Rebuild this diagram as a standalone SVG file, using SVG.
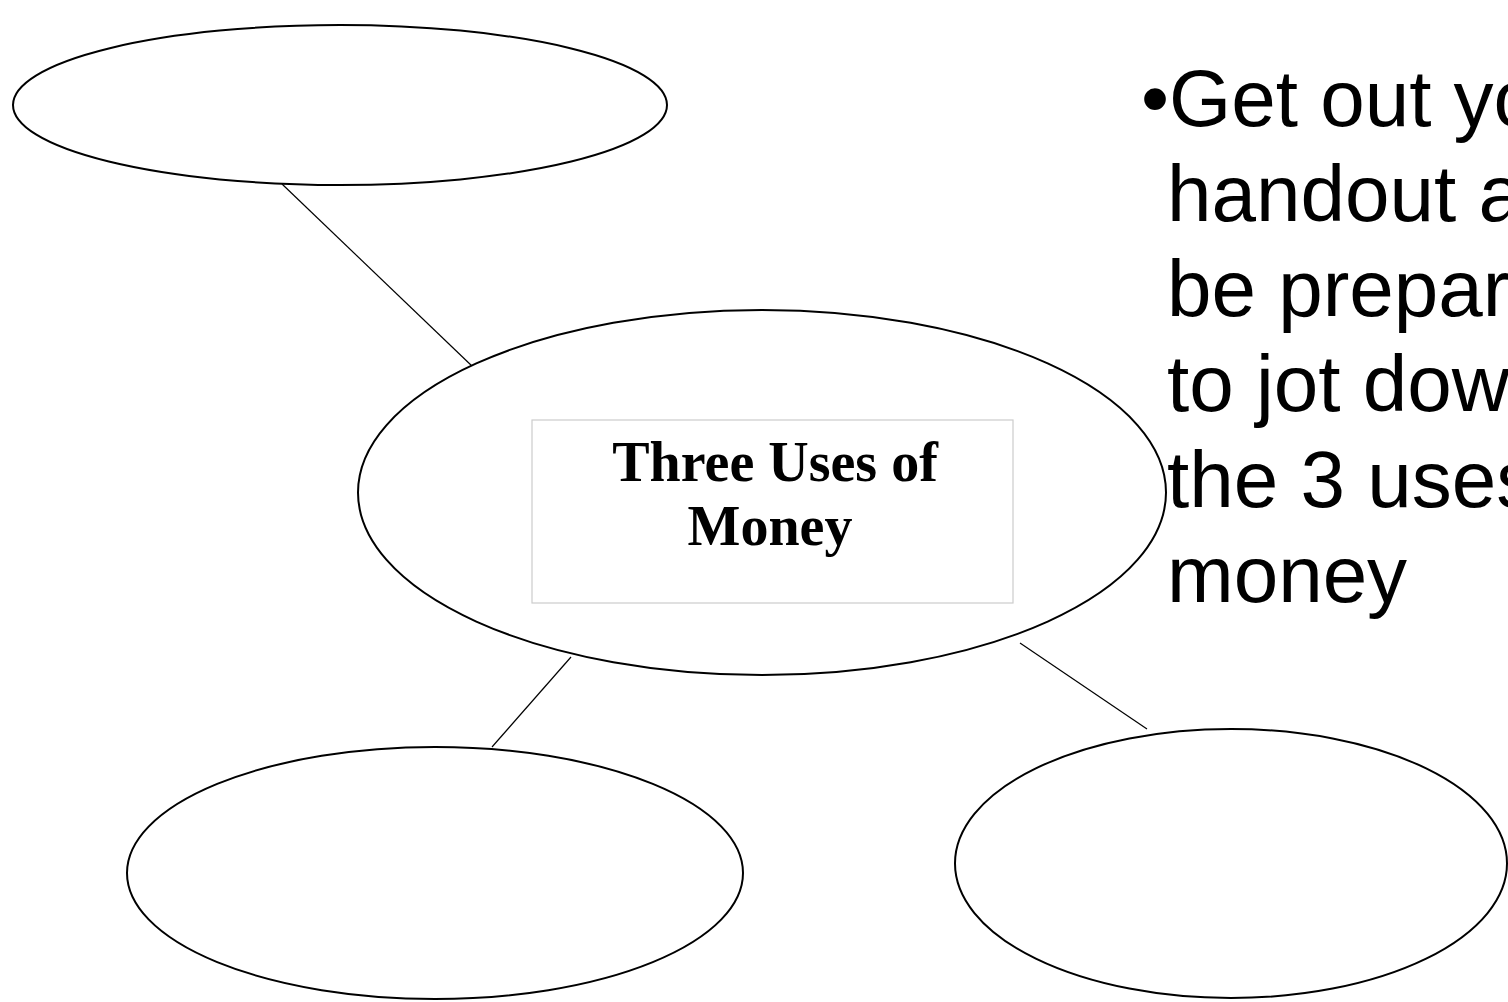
<svg xmlns="http://www.w3.org/2000/svg" width="1508" height="1002" viewBox="0 0 1508 1002">
<style>
.node{fill:#ffffff;stroke:#000000;stroke-width:2}
.conn{stroke:#000000;stroke-width:1.2;fill:none}
.title{font-family:"Liberation Serif","Times New Roman",serif;font-weight:bold;font-size:56px;fill:#000000;text-anchor:middle}
.body{font-family:"Liberation Sans",Arial,sans-serif;font-size:80px;fill:#000000}
</style>
<rect x="0" y="0" width="1508" height="1002" fill="#ffffff"/>
<g id="connectors">
<line class="conn" x1="282" y1="184" x2="473" y2="367"/>
<line class="conn" x1="571" y1="657" x2="492" y2="747"/>
<line class="conn" x1="1020" y1="643" x2="1147" y2="729" stroke="#333333"/>
</g>
<g id="node-top">
<ellipse class="node" cx="340" cy="105" rx="327" ry="80"/>
</g>
<g id="node-center">
<ellipse class="node" cx="762" cy="492.5" rx="404" ry="182.5"/>
<rect x="532" y="420" width="481" height="183" fill="#ffffff" stroke="#cccccc" stroke-width="1.2"/>
<text class="title" x="775" y="481">Three Uses of</text>
<text class="title" x="770" y="545">Money</text>
</g>
<g id="node-bottom-left">
<ellipse class="node" cx="435" cy="873" rx="308" ry="126"/>
</g>
<g id="node-bottom-right">
<ellipse class="node" cx="1231" cy="863.5" rx="276" ry="134.5"/>
</g>
<g id="bullet-text">
<text class="body" x="1141" y="126">•Get out your</text>
<text class="body" x="1167" y="221">handout and</text>
<text class="body" x="1167" y="316">be prepared</text>
<text class="body" x="1167" y="411">to jot down</text>
<text class="body" x="1167" y="507">the 3 uses of</text>
<text class="body" x="1167" y="602">money</text>
</g>
</svg>
